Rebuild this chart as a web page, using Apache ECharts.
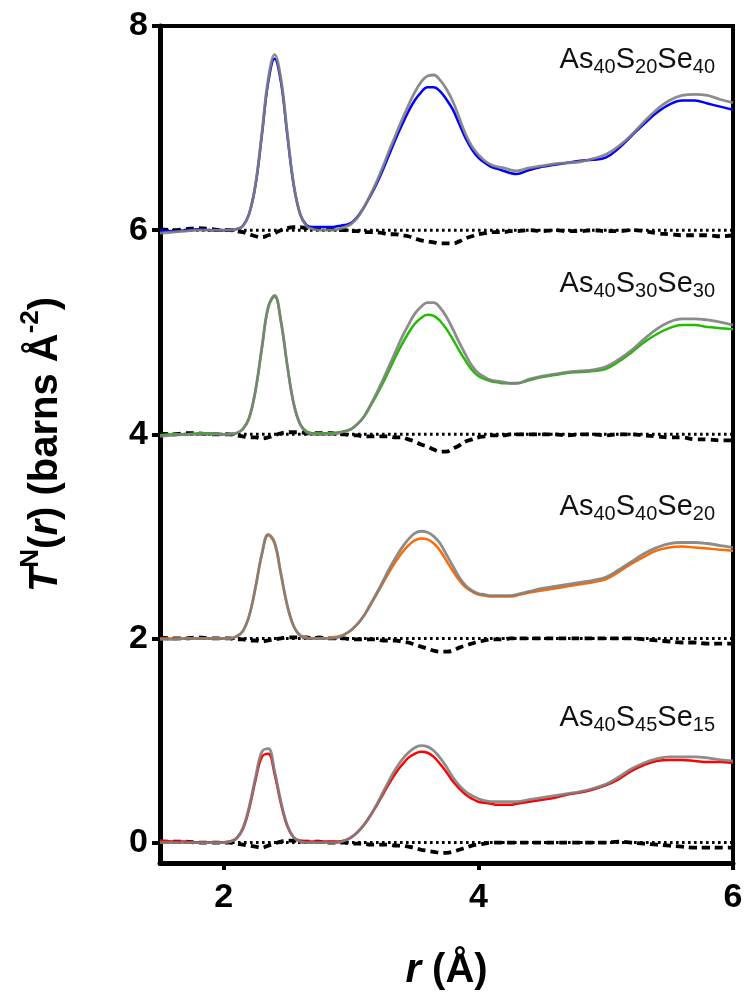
<!DOCTYPE html>
<html><head><meta charset="utf-8">
<script src="https://cdn.jsdelivr.net/npm/echarts@6/dist/echarts.min.js"></script>
<style>html,body{margin:0;padding:0;background:#fff}#c{width:746px;height:999px}</style>
</head><body><div id="c"></div>
<script>
// r grid (Å)
const r = [1.5,1.6,1.7,1.8,1.9,
  2.0,2.05,2.1,2.15,2.2,2.25,2.3,2.35,2.4,2.45,2.5,2.55,2.6,2.65,2.7,2.75,
  2.8,2.85,2.9,2.95,3.0,3.05,3.1,3.15,3.2,3.25,3.3,3.35,3.4,3.45,3.5,3.55,3.6,3.65,3.7,3.75,3.8,3.85,3.9,3.95,4.0,4.05,4.1,4.15,4.2,4.25,4.3,
  4.4,4.5,4.6,4.7,4.8,4.9,5.0,5.1,5.2,5.3,5.4,5.5,5.6,5.7,5.8,5.9,6.0];

const names = ["As40S20Se40","As40S30Se30","As40S40Se20","As40S45Se15"];
const offsets = [6, 4, 2, 0];
const colors = ["#0000ff","#1fbf00","#ff6a00","#ff0000"];
const xTicks = [2, 4, 6];
const yTicks = [0, 2, 4, 6, 8];

// As40S20Se40 (offset 6)
const exp1 = [6.00,5.99,6.00,6.01,6.00,
  6.00,6.00,6.01,6.04,6.16,6.44,6.93,7.45,7.68,7.45,6.93,6.44,6.16,6.05,6.03,6.03,
  6.03,6.03,6.04,6.05,6.07,6.13,6.22,6.33,6.45,6.59,6.74,6.89,7.03,7.16,7.27,7.35,7.40,7.40,7.36,7.28,7.18,7.04,6.90,6.79,6.71,6.66,6.62,6.60,6.58,6.56,6.55,
  6.59,6.62,6.64,6.66,6.68,6.69,6.71,6.80,6.92,7.04,7.15,7.23,7.27,7.27,7.24,7.21,7.18];
const mod1 = [5.97,5.98,5.99,6.00,6.00,
  6.00,6.00,6.01,6.04,6.16,6.45,6.95,7.48,7.72,7.48,6.95,6.45,6.16,6.04,6.01,6.00,
  6.00,6.00,6.01,6.03,6.06,6.12,6.22,6.34,6.47,6.62,6.78,6.93,7.08,7.22,7.35,7.45,7.51,7.52,7.47,7.38,7.26,7.10,6.94,6.82,6.74,6.68,6.64,6.62,6.61,6.59,6.58,
  6.61,6.63,6.65,6.66,6.67,6.70,6.74,6.82,6.93,7.06,7.18,7.27,7.32,7.33,7.32,7.28,7.25];
const diff1 = [6.01,6.00,6.01,6.02,6.01,
  6.00,6.00,5.99,5.98,5.96,5.94,5.93,5.95,5.97,6.00,6.02,6.03,6.03,6.02,6.02,6.02,
  6.01,6.01,6.00,6.00,5.99,5.99,5.98,5.98,5.98,5.97,5.96,5.96,5.95,5.94,5.92,5.90,5.89,5.88,5.87,5.87,5.87,5.89,5.92,5.94,5.96,5.97,5.98,5.98,5.98,5.99,5.99,
  6.00,5.99,6.00,5.99,5.99,6.00,5.99,5.99,6.00,5.99,5.97,5.96,5.95,5.95,5.95,5.94,5.95];

// As40S30Se30 (offset 4)
const exp2 = [3.99,4.00,4.00,4.01,4.01,
  4.00,4.00,4.01,4.05,4.16,4.43,4.84,5.24,5.35,5.10,4.67,4.30,4.10,4.03,4.01,4.01,
  4.01,4.01,4.02,4.03,4.05,4.10,4.17,4.27,4.38,4.50,4.63,4.76,4.88,4.99,5.08,5.14,5.17,5.16,5.11,5.03,4.93,4.82,4.72,4.63,4.57,4.54,4.52,4.51,4.50,4.50,4.50,
  4.53,4.56,4.58,4.60,4.61,4.62,4.64,4.71,4.80,4.90,4.98,5.04,5.07,5.07,5.05,5.04,5.03];
const mod2 = [3.98,3.99,4.00,4.00,4.00,
  4.00,4.00,4.01,4.05,4.16,4.43,4.85,5.25,5.36,5.11,4.67,4.30,4.10,4.02,4.00,4.00,
  4.00,4.00,4.01,4.03,4.05,4.10,4.17,4.28,4.40,4.53,4.67,4.81,4.95,5.07,5.18,5.25,5.29,5.29,5.24,5.15,5.03,4.90,4.78,4.67,4.60,4.56,4.53,4.52,4.51,4.50,4.50,
  4.54,4.57,4.59,4.61,4.62,4.63,4.66,4.73,4.82,4.93,5.03,5.10,5.13,5.13,5.12,5.10,5.07];
const diff2 = [4.01,4.00,4.01,4.01,4.00,
  4.00,4.00,3.99,3.98,3.97,3.97,3.96,3.97,3.99,4.01,4.02,4.02,4.02,4.01,4.01,4.01,
  4.01,4.01,4.00,4.00,3.99,3.99,3.98,3.98,3.98,3.98,3.98,3.97,3.97,3.95,3.93,3.90,3.88,3.85,3.83,3.83,3.86,3.89,3.93,3.95,3.97,3.98,3.99,3.99,3.99,4.00,4.00,
  4.00,4.00,4.00,3.99,4.00,4.00,3.99,4.00,4.00,3.99,3.98,3.97,3.97,3.95,3.95,3.94,3.94];

// As40S40Se20 (offset 2)
const exp3 = [2.00,2.00,2.00,2.00,2.00,
  2.00,2.00,2.02,2.07,2.22,2.50,2.82,3.01,2.93,2.63,2.32,2.12,2.03,2.01,2.00,2.00,
  2.00,2.01,2.02,2.04,2.08,2.14,2.22,2.32,2.43,2.54,2.65,2.75,2.84,2.91,2.96,2.98,2.97,2.93,2.86,2.76,2.66,2.57,2.50,2.46,2.43,2.42,2.41,2.41,2.41,2.41,2.42,
  2.45,2.47,2.49,2.51,2.53,2.55,2.58,2.65,2.73,2.80,2.86,2.89,2.90,2.89,2.88,2.87,2.86];
const mod3 = [1.99,1.99,2.00,2.00,2.00,
  2.00,2.00,2.02,2.07,2.22,2.50,2.83,3.02,2.94,2.63,2.32,2.12,2.03,2.00,2.00,2.00,
  2.00,2.00,2.01,2.04,2.08,2.14,2.22,2.33,2.44,2.56,2.68,2.79,2.89,2.97,3.03,3.05,3.04,3.00,2.93,2.82,2.71,2.60,2.52,2.47,2.44,2.43,2.42,2.42,2.42,2.42,2.43,
  2.46,2.49,2.51,2.53,2.55,2.57,2.60,2.67,2.75,2.83,2.89,2.93,2.94,2.94,2.93,2.91,2.89];
const diff3 = [2.01,2.00,2.00,2.01,2.00,
  2.00,2.00,1.99,1.99,1.98,1.98,1.97,1.98,1.99,2.00,2.01,2.01,2.01,2.01,2.00,2.01,
  2.00,2.00,2.00,2.00,1.99,1.99,1.99,1.99,1.99,1.98,1.98,1.98,1.97,1.96,1.94,1.92,1.90,1.88,1.87,1.87,1.88,1.91,1.93,1.95,1.97,1.98,1.99,1.99,1.99,2.00,2.00,
  2.00,2.00,2.00,2.00,2.00,2.00,2.00,2.00,2.00,1.99,1.98,1.97,1.96,1.96,1.95,1.95,1.95];

// As40S45Se15 (offset 0)
const exp4 = [0.02,0.01,0.01,0.00,0.00,
  0.00,0.01,0.04,0.13,0.33,0.61,0.84,0.87,0.67,0.38,0.16,0.05,0.02,0.01,0.01,0.01,
  0.01,0.01,0.01,0.02,0.05,0.10,0.17,0.26,0.36,0.47,0.58,0.68,0.76,0.83,0.87,0.89,0.88,0.84,0.77,0.69,0.60,0.53,0.47,0.43,0.40,0.39,0.38,0.37,0.37,0.37,0.38,
  0.40,0.42,0.44,0.47,0.49,0.52,0.56,0.62,0.70,0.76,0.80,0.81,0.81,0.80,0.79,0.79,0.78];
const mod4 = [0.00,0.00,0.00,0.00,0.00,
  0.00,0.01,0.04,0.14,0.35,0.64,0.89,0.92,0.70,0.40,0.17,0.05,0.01,0.00,0.00,0.00,
  0.00,0.00,0.00,0.02,0.05,0.10,0.17,0.26,0.37,0.49,0.61,0.72,0.81,0.88,0.93,0.95,0.94,0.90,0.83,0.74,0.64,0.56,0.50,0.46,0.43,0.41,0.40,0.40,0.40,0.40,0.40,
  0.42,0.44,0.46,0.48,0.50,0.53,0.57,0.64,0.72,0.78,0.82,0.84,0.84,0.84,0.83,0.81,0.80];
const diff4 = [0.01,0.01,0.01,0.00,0.00,
  0.00,0.00,-0.01,-0.02,-0.03,-0.04,-0.05,-0.03,-0.01,0.01,0.02,0.02,0.01,0.01,0.01,0.01,
  0.00,0.00,0.00,0.00,-0.01,-0.01,-0.01,-0.02,-0.02,-0.02,-0.02,-0.03,-0.03,-0.04,-0.05,-0.07,-0.08,-0.09,-0.10,-0.10,-0.09,-0.07,-0.05,-0.03,-0.02,-0.01,0.00,0.00,0.00,0.00,0.00,
  0.00,0.00,0.00,0.00,0.00,0.00,0.00,0.01,0.00,-0.01,-0.02,-0.03,-0.04,-0.05,-0.05,-0.05,-0.05];

const expData = [exp1, exp2, exp3, exp4];
const modData = [mod1, mod2, mod3, mod4];
const diffData = [diff1, diff2, diff3, diff4];

const FONT = "Arial, 'Liberation Sans', sans-serif";
const pair = (ys) => r.map((x, i) => [x, ys[i]]);

const series = [];
for (let k = 0; k < 4; k++) {
  series.push({type:'line', data: [[r[0], offsets[k]], [r[r.length-1], offsets[k]]], symbol:'none', silent:true,
    lineStyle:{color:'#000', width:3, type:[2.6,3.4]}, z:2});
  series.push({type:'line', data: pair(diffData[k]), symbol:'none', smooth:0.4, silent:true,
    lineStyle:{color:'#000', width:3.8, type:[8,5]}, z:2});
  series.push({type:'line', data: pair(expData[k]), symbol:'none', smooth:0.4, silent:true,
    lineStyle:{color:colors[k], width:2.5}, z:3});
  series.push({type:'line', data: pair(modData[k]), symbol:'none', smooth:0.4, silent:true,
    lineStyle:{color:'#808080', width:2.8, opacity:0.9}, z:4});
}

function label(name) {
  const m = name.match(/^As(\d+)S(\d+)Se(\d+)$/);
  return `{m|As}{s|${m[1]}}{m|S}{s|${m[2]}}{m|Se}{s|${m[3]}}`;
}
const labelY = [62, 286, 509, 720];
const rich = {
  m:{fontSize:29, fontFamily:FONT, color:'#111', lineHeight:34, verticalAlign:'middle'},
  s:{fontSize:20, fontFamily:FONT, color:'#111', lineHeight:34, verticalAlign:'bottom', padding:[12,0,0,0]}
};

const chart = echarts.init(document.getElementById('c'), null, {renderer:'canvas'});
chart.setOption({
  animation:false,
  backgroundColor:'#fff',
  grid:{left:160, right:13, top:26, bottom:136, show:true, borderColor:'#000', borderWidth:4, backgroundColor:'transparent'},
  xAxis:{type:'value', min:1.5, max:6,
    name:'{i|r}{b| (Å)}', nameLocation:'middle', nameGap:88,
    nameTextStyle:{rich:{i:{fontSize:40, fontWeight:'bold', fontStyle:'italic', fontFamily:FONT}, b:{fontSize:40, fontWeight:'bold', fontFamily:FONT}}},
    axisLine:{show:true, onZero:false, lineStyle:{color:'#000', width:5}},
    axisTick:{show:true, customValues:xTicks, length:7, lineStyle:{color:'#000', width:4}},
    axisLabel:{customValues:xTicks, fontSize:34, fontWeight:'bold', color:'#000', fontFamily:FONT, margin:18},
    splitLine:{show:false}},
  yAxis:{type:'value', min:-0.2, max:8,
    name:'{ti|T}{sup|N}{b|(}{i|r}{b|) (barns Å}{sup|-2}{b|)}', nameLocation:'middle', nameGap:94, nameRotate:90,
    nameTextStyle:{rich:{
      ti:{fontSize:40, fontWeight:'bold', fontStyle:'italic', fontFamily:FONT, lineHeight:48, verticalAlign:'bottom'},
      i:{fontSize:40, fontWeight:'bold', fontStyle:'italic', fontFamily:FONT, lineHeight:48, verticalAlign:'bottom'},
      b:{fontSize:40, fontWeight:'bold', fontFamily:FONT, lineHeight:48, verticalAlign:'bottom'},
      sup:{fontSize:26, fontWeight:'bold', fontFamily:FONT, lineHeight:48, verticalAlign:'top'}}},
    axisLine:{show:true, onZero:false, lineStyle:{color:'#000', width:5}},
    axisTick:{show:true, customValues:yTicks, length:8, lineStyle:{color:'#000', width:4}},
    axisLabel:{customValues:yTicks, fontSize:34, fontWeight:'bold', color:'#000', fontFamily:FONT, margin:12},
    splitLine:{show:false}},
  graphic: names.map((n, k) => ({type:'text', right:31, top:labelY[k]-17, z:10,
    style:{text:label(n), rich:rich, fill:'#111'}})),
  series: series
});
</script></body></html>
